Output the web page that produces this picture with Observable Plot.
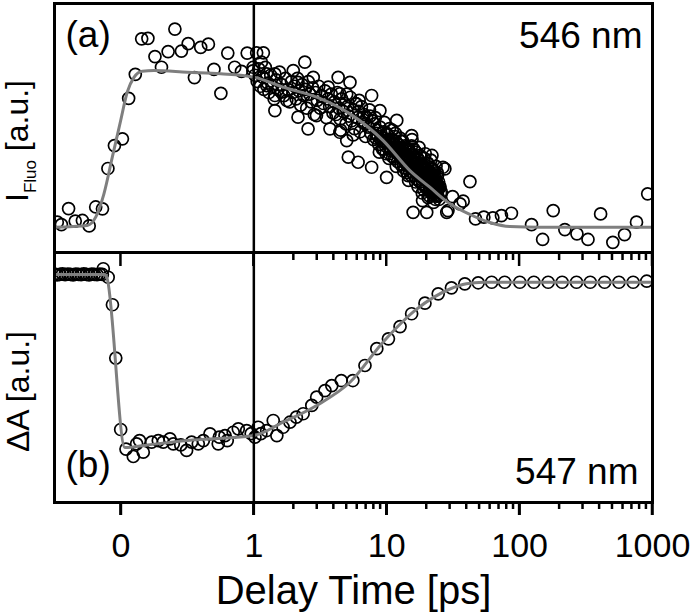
<!DOCTYPE html>
<html><head><meta charset="utf-8">
<script src="https://cdn.jsdelivr.net/npm/d3@7"></script>
<script src="https://cdn.jsdelivr.net/npm/@observablehq/plot@0.6"></script>
<style>
html,body{margin:0;padding:0;background:#fff;}
#chart{position:relative;width:700px;height:613px;overflow:hidden;}
#chart svg{position:absolute;left:0;}
</style></head><body><div id="chart"></div>
<script>
// ---- tick values / labels ----
const tickValues = [0, 1, 10, 100, 1000];
const tickLabels = ["0", "1", "10", "100", "1000"];
const minorTickValues = [2,3,4,5,6,7,8,9,20,30,40,50,60,70,80,90,200,300,400,500,600,700,800,900];
const panelLabels = ["(a)", "(b)"];
const wavelengthLabels = ["546 nm", "547 nm"];
const xTitle = "Delay Time [ps]";
const yTitleTop = ["I", "Fluo", " [a.u.]"];
const yTitleBottom = "ΔA [a.u.]";

// ---- (a) fluorescence: [delay ps, intensity a.u.] ----
const fluoRise = [
[-0.479,0.034],[-0.448,0.019],[-0.394,0.121],[-0.344,0.041],[-0.290,0.045],[-0.239,0.010],
[-0.190,0.131],[-0.139,0.119],[-0.098,0.376],[-0.049,0.522],[0.011,0.565],[0.058,0.823],
[0.108,0.976],[0.156,1.202],[0.203,1.205],[0.256,1.089],[0.305,1.021],[0.355,1.121],
[0.406,1.264],[0.455,1.124],[0.506,1.172],[0.553,0.955],[0.600,1.148],[0.658,1.168],
[0.700,1.008],[0.752,0.855],[0.804,1.111],[0.856,1.021],[0.907,0.995],[0.950,1.111],
[0.993,0.998],[0.995,1.021]
];
const fluoDecaySparse = [
[1.05,1.113],[1.18,1.113],[1.14,1.053],[1.25,0.979],[1.44,0.979],[1.25,0.904],[1.44,0.841],
[1.44,0.745],[1.61,0.862],[1.77,0.809],[1.98,1.000],[2.42,1.053],[2.15,0.925],[2.15,0.703],
[2.56,0.629],[2.80,0.957],[2.96,0.713],[3.63,0.894],[4.31,0.957],[5.29,0.925],[4.44,0.852],
[3.74,0.629],[4.44,0.607],[5.00,0.554],[5.14,0.448],[5.89,0.788],[7.70,0.841],[8.89,0.745],
[6.64,0.703],[6.09,0.416],[7.70,0.384],[11.9,0.682],[9.98,0.320],[15.4,0.586],[21.9,0.459],
[26.5,0.384],[15.8,0.097],[20.0,0.097],[28.3,0.097],[24.4,0.246],[18.6,0.172],[27.4,0.374],
[25.1,0.257],[25.8,0.225],[28.9,0.108],[31.3,0.197],[35.6,0.151],[37.6,0.168],[42.3,0.293],
[46.6,0.055],[53.8,0.066],[62.9,0.062],[73.0,0.076],[86.8,0.091],[123,0.019],[149,-0.076],
[179,0.108],[219,-0.013],[270,-0.040],[327,-0.076],[407,0.087],[503,-0.094],[616,-0.045],
[758,0.034],[920,0.215]
];
const fluoDecayDense = [
[1.02,0.97],[1.06,0.93],[1.09,1.01],[1.12,0.90],[1.16,0.96],[1.19,0.88],[1.22,1.02],[1.27,0.92],
[1.30,0.86],[1.34,0.97],[1.38,0.90],[1.42,0.82],[1.47,0.94],[1.52,0.88],[1.56,0.99],[1.62,0.91],
[1.68,0.84],[1.73,0.95],[1.80,0.88],[1.86,0.80],[1.92,0.93],[1.97,0.86],
[2.03,0.90],[2.08,0.82],[2.13,0.95],[2.19,0.87],[2.25,0.78],[2.31,0.91],[2.37,0.84],[2.44,0.88],
[2.50,0.76],[2.57,0.93],[2.63,0.85],[2.70,0.80],[2.77,0.89],[2.85,0.72],[2.92,0.86],[3.00,0.81],
[3.08,0.90],[3.16,0.76],[3.25,0.84],[3.34,0.79],[3.43,0.87],[3.52,0.70],[3.62,0.82],[3.72,0.77],
[3.83,0.85],[3.94,0.73],
[4.05,0.80],[4.15,0.72],[4.25,0.86],[4.36,0.76],[4.47,0.69],[4.58,0.82],[4.70,0.74],[4.82,0.79],
[4.94,0.66],[5.06,0.77],[5.19,0.71],[5.32,0.83],[5.45,0.68],[5.58,0.75],[5.72,0.63],[5.86,0.79],
[6.00,0.70],[6.15,0.74],[6.30,0.61],[6.45,0.77],[6.60,0.67],[6.76,0.72],[6.92,0.58],[7.08,0.70],
[7.25,0.64],[7.42,0.75],[7.60,0.60],[7.78,0.68],[7.96,0.56],
[4.50,0.62],[5.00,0.85],[5.60,0.59],[6.20,0.81],[6.90,0.66],[7.50,0.71],
[8.1,0.66],[8.3,0.57],[8.5,0.62],[8.7,0.53],[8.9,0.64],[9.1,0.58],[9.3,0.50],[9.5,0.61],
[9.7,0.55],[9.9,0.47],[10.1,0.59],[10.3,0.52],[10.5,0.63],[10.7,0.49],[10.9,0.56],[11.1,0.45],
[11.3,0.53],[11.5,0.58],[11.7,0.48],[11.9,0.54],[12.1,0.42],[12.3,0.51],[12.5,0.46],[12.7,0.55],
[12.9,0.44],[13.1,0.50],[13.3,0.40],[13.5,0.47],[13.7,0.52],[13.9,0.43],
[8.2,0.70],[8.8,0.48],[9.6,0.67],[10.4,0.44],[11.0,0.62],[11.8,0.39],[12.6,0.57],[13.4,0.36],
[14.1,0.47],[14.35,0.40],[14.6,0.50],[14.85,0.36],[15.1,0.44],[15.35,0.52],[15.6,0.39],[15.85,0.46],
[16.1,0.33],[16.35,0.42],[16.6,0.48],[16.85,0.37],[17.1,0.44],[17.35,0.30],[17.6,0.40],[17.85,0.46],
[18.1,0.34],[18.35,0.41],[18.6,0.28],[18.85,0.38],[19.1,0.44],[19.35,0.32],[19.6,0.37],[19.85,0.26],
[20.1,0.35],[20.35,0.41],[20.6,0.30],[20.85,0.36],[21.1,0.24],[21.35,0.33],[21.6,0.38],[21.85,0.28],
[22.1,0.34],[22.35,0.22],[22.6,0.30],[22.85,0.36],[23.1,0.26],[23.35,0.31],[23.6,0.20],[23.85,0.28],
[24.1,0.33],[24.35,0.24],[24.6,0.29],[24.85,0.18],[25.1,0.26],[25.4,0.22],
[14.5,0.33],[15.5,0.56],[16.5,0.29],[17.5,0.51],[18.5,0.22],[19.5,0.47],[20.5,0.19],[21.5,0.43],
[22.5,0.16],[23.5,0.39],
[9.2,0.55],[9.8,0.52],[10.2,0.56],[10.8,0.50],[11.4,0.49],[12.0,0.47],[12.4,0.49],[13.0,0.45],
[13.6,0.42],[14.2,0.41],[14.8,0.43],[15.2,0.38],[15.8,0.41],[16.4,0.36],[17.0,0.39],[17.6,0.34],
[18.2,0.37],[18.8,0.32],[19.4,0.35],[20.0,0.30],[20.6,0.33],[21.2,0.29],[21.8,0.31],[22.4,0.27],
[23.0,0.29],[23.6,0.25],[24.2,0.27],[11.6,0.60],[13.2,0.55],[14.6,0.30],[16.0,0.50],[17.2,0.26],
[18.0,0.45],[19.0,0.24],[20.2,0.41],[21.0,0.20],[22.0,0.37],[23.2,0.18],[24.0,0.35],
[8.4,0.60],[8.6,0.58],[9.0,0.56],[9.4,0.57],[9.9,0.54],[10.6,0.54],[11.2,0.51],[11.9,0.50],
[12.5,0.48],[13.2,0.46],[13.8,0.45],[14.4,0.44],[14.9,0.40],[15.4,0.42],[15.9,0.38],[16.3,0.40],
[16.8,0.41],[17.3,0.36],[17.8,0.38],[18.3,0.34],[18.7,0.35],[19.2,0.33],[19.7,0.30],[20.3,0.32],
[20.8,0.28],[21.4,0.30],[21.9,0.26],[22.3,0.29],[22.8,0.24],[23.4,0.27],[23.9,0.23],[24.5,0.25],
[14.0,0.50],[15.0,0.48],[16.2,0.45],[17.4,0.43],[18.4,0.40],[19.6,0.38],[20.7,0.36],[21.7,0.34],
[22.7,0.33],[14.2,0.35],[15.3,0.33],[16.7,0.31],[17.8,0.29],[18.9,0.27],[19.9,0.25],[21.2,0.23],
[22.2,0.21],[23.3,0.21],[24.3,0.20],[10.0,0.60],[11.0,0.56],[12.2,0.53],[13.0,0.51],[9.5,0.50],
[10.5,0.47],[11.5,0.44],[12.8,0.40],[13.6,0.38]
];
const fluoFit = [
[-0.5,0.002],[-0.254,0.013],[-0.19,0.066],[-0.128,0.215],[-0.065,0.448],[-0.002,0.682],
[0.047,0.862],[0.098,0.957],[0.16,0.996],[0.248,1.0],[0.499,0.989],[0.75,0.979],[1.0,0.957],
[1.66,0.894],[2.97,0.830],[5.29,0.724],[9.41,0.554],[14.95,0.363],[21.1,0.257],[29.9,0.151],
[42.3,0.083],[59.8,0.032],[84.5,0.006],[142,0.002],[1000,0.002]
];

// ---- (b) transient absorption: [delay ps, ΔA a.u.] ----
const absPre = [
[-0.50,0.002],[-0.48,-0.002],[-0.46,0.001],[-0.44,0.003],[-0.42,-0.001],[-0.40,0.002],[-0.38,0.000],
[-0.36,-0.002],[-0.34,0.002],[-0.32,0.001],[-0.30,-0.001],[-0.28,0.003],[-0.26,0.000],[-0.24,-0.002],
[-0.22,0.002],[-0.20,0.001],[-0.18,-0.001],[-0.16,0.002],[-0.14,0.000]
];
const absEarly = [
[-0.133,0.033],[-0.096,-0.016],[-0.064,-0.175],[-0.039,-0.483],[-0.002,-0.896],[0.038,-1.009],
[0.093,-1.052],[0.118,-0.979],[0.14,-0.96],[0.168,-1.027],[0.231,-0.969],[0.281,-0.960],
[0.318,-0.969],[0.369,-0.950],[0.394,-0.979],[0.45,-0.985],[0.494,-1.017],[0.532,-0.969],
[0.582,-0.979],[0.620,-0.960],[0.670,-0.921],[0.732,-0.979],[0.74,-0.94],[0.783,-0.931],
[0.80,-0.96],[0.845,-0.912],[0.883,-0.892],[0.946,-0.902],[0.98,-0.92]
];
const absLate = [
[1.02,-0.940],[1.08,-0.883],[1.13,-0.92],[1.25,-0.902],[1.40,-0.844],[1.49,-0.931],[1.66,-0.883],
[1.87,-0.854],[2.09,-0.825],[2.35,-0.805],[2.73,-0.757],[2.97,-0.709],[3.43,-0.671],[3.86,-0.642],
[4.55,-0.613],[5.56,-0.613],[6.86,-0.526],[8.42,-0.429],[10.3,-0.372],[12.6,-0.301],[15.4,-0.227],
[19.4,-0.166],[24.4,-0.112],[30.7,-0.077],[38.7,-0.054],[48.8,-0.048],[61.6,-0.045],[77.2,-0.045],
[100.3,-0.045],[128,-0.045],[164,-0.045],[209,-0.045],[268,-0.045],[340,-0.045],[436,-0.045],
[559,-0.045],[715,-0.045],[905,-0.039]
];
const absFit = [
[-0.5,0],[-0.12,0],[-0.105,-0.02],[0.03,-1.0],[0.2,-0.985],[0.5,-0.96],[1.0,-0.931],[1.66,-0.854],
[2.97,-0.757],[5.29,-0.623],[9.41,-0.390],[16.7,-0.202],[29.9,-0.084],[39.8,-0.054],[53.4,-0.045],
[1000,-0.045]
];

// ---- helpers ----
// linear axis up to 1 ps, logarithmic beyond
const toU = t => t <= 1 ? t : 1 + Math.log10(t);
const uMajor = tickValues.map(toU);
const uMinor = minorTickValues.map(toU);
const fmt = d => tickLabels[d3.minIndex(uMajor, u => Math.abs(u - d))];

const FONT = '"Liberation Sans", Arial, Helvetica, sans-serif';
const W = 700, ML = 54, MR = 48;
const dotOpts = {x: d => toU(d[0]), y: d => d[1], r: 6, stroke: "black", strokeWidth: 1.7, fill: "none", clip: true};
const lineOpts = {x: d => toU(d[0]), y: d => d[1], stroke: "#7f7f7f", strokeWidth: 3, curve: "monotone-x", clip: true};

const chart = document.getElementById("chart");

// ---- top panel ----
const topSvg = Plot.plot({
  width: W, height: 252, marginLeft: ML, marginRight: MR, marginTop: 3, marginBottom: 0,
  style: {fontFamily: FONT, background: "transparent", overflow: "visible", color: "black"},
  x: {domain: [-0.5, 4], axis: null},
  y: {domain: [-0.159, 1.427], axis: null},
  marks: [
    Plot.dot(fluoRise, dotOpts),
    Plot.dot(fluoDecaySparse, dotOpts),
    Plot.dot(fluoDecayDense, dotOpts),
    Plot.line(fluoFit, lineOpts),
    Plot.ruleX([1], {stroke: "black", strokeWidth: 2.5}),
    Plot.frame({stroke: "black", strokeWidth: 3}),
    Plot.text([panelLabels[0]], {text: d => d, frameAnchor: "top-left", dx: 11, dy: 43, lineAnchor: "bottom", textAnchor: "start", fontSize: 37, fill: "black"}),
    Plot.text([wavelengthLabels[0]], {text: d => d, frameAnchor: "top-right", dx: -10, dy: 44, lineAnchor: "bottom", textAnchor: "end", fontSize: 37, fill: "black"})
  ]
});
topSvg.style.top = "0px";
chart.appendChild(topSvg);

// y title with subscript
const yt = d3.select(topSvg).append("text")
  .attr("transform", "translate(28,141) rotate(-90)")
  .attr("text-anchor", "middle").attr("font-size", 32).attr("font-family", FONT).attr("fill", "black");
yt.append("tspan").text(yTitleTop[0]);
yt.append("tspan").attr("font-size", 17).attr("dy", 8).text(yTitleTop[1]);
yt.append("tspan").attr("dy", -8).text(yTitleTop[2]);

// ---- bottom panel ----
const botSvg = Plot.plot({
  width: W, height: 361, marginLeft: ML, marginRight: MR, marginTop: 0, marginBottom: 111,
  style: {fontFamily: FONT, background: "transparent", overflow: "visible", fontSize: "34px", color: "black"},
  x: {domain: [-0.5, 4]},
  y: {domain: [-1.318, 0.127], axis: null},
  marks: [
    Plot.dot(absPre, dotOpts),
    Plot.dot(absEarly, dotOpts),
    Plot.dot(absLate, dotOpts),
    Plot.line(absFit, lineOpts),
    Plot.ruleX([1], {stroke: "black", strokeWidth: 2.5}),
    Plot.frame({stroke: "black", strokeWidth: 3}),
    Plot.axisX(uMajor, {anchor: "bottom", tickSize: 13, tickPadding: 17, strokeWidth: 2.5, fontSize: 34, tickFormat: fmt, label: null}),
    Plot.text([xTitle], {text: d => d, frameAnchor: "bottom", dy: 101, lineAnchor: "bottom", fontSize: 40, fill: "black"}),
    Plot.text([yTitleBottom], {text: d => d, frameAnchor: "left", dx: -26, dy: 14, rotate: -90, lineAnchor: "bottom", textAnchor: "middle", fontSize: 32, fill: "black"}),
    Plot.text([panelLabels[1]], {text: d => d, frameAnchor: "bottom-left", dx: 11, dy: -26, lineAnchor: "bottom", textAnchor: "start", fontSize: 37, fill: "black"}),
    Plot.text([wavelengthLabels[1]], {text: d => d, frameAnchor: "bottom-right", dx: -14, dy: -19, lineAnchor: "bottom", textAnchor: "end", fontSize: 37, fill: "black"})
  ]
});
botSvg.style.top = "252px";
chart.appendChild(botSvg);

// tick marks: inward from the shared middle border, outward below the bottom border
{
  const sx = botSvg.scale("x"), sy = botSvg.scale("y");
  const yTop = Math.min(...sy.range), yBot = Math.max(...sy.range);
  const ticks = uMajor.map(u => ({u, major: true})).concat(uMinor.map(u => ({u, major: false})));
  const g = d3.select(botSvg).append("g").attr("stroke", "black").attr("stroke-width", 2.5);
  g.selectAll("line.in").data(ticks).join("line").attr("class", "in")
    .attr("x1", d => sx.apply(d.u)).attr("x2", d => sx.apply(d.u))
    .attr("y1", yTop).attr("y2", d => yTop + (d.major ? 14 : 8));
  g.selectAll("line.out").data(ticks).join("line").attr("class", "out")
    .attr("x1", d => sx.apply(d.u)).attr("x2", d => sx.apply(d.u))
    .attr("y1", yBot).attr("y2", d => yBot + (d.major ? 13 : 7));
}
</script></body></html>
